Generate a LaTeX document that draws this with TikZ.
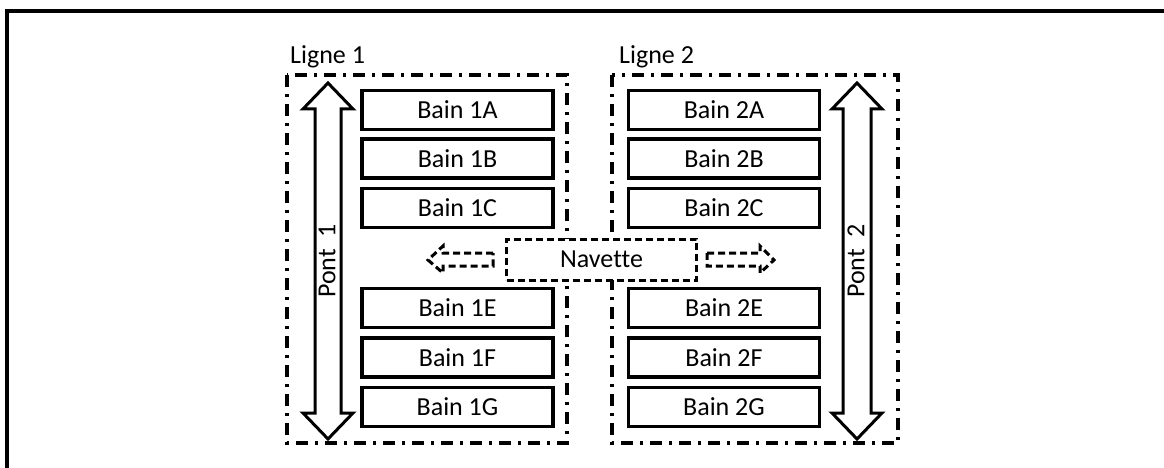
\documentclass[tikz,border=0pt]{standalone}
\usepackage{fontspec}
\setmainfont[Ligatures=NoCommon]{Carlito}
\begin{document}
\begin{tikzpicture}[x=1pt,y=-1pt,
  bainbox/.style={draw,line width=3.2pt,minimum width=191pt,minimum height=39pt,inner sep=0pt,font=\fontsize{26}{29}\selectfont},
  ligne/.style={draw,line width=3.2pt,dash pattern=on 12pt off 7pt on 3pt off 7pt},
  lbl/.style={font=\fontsize{26}{29}\selectfont,inner sep=0pt},
  pont/.style={draw,line width=3pt,line join=miter},
  nav/.style={draw,line width=3pt,dash pattern=on 7pt off 4pt}
]
\useasboundingbox (0,0) rectangle (1164,468);
% outer frame
\draw[line width=3.4pt] (7,480) -- (7,11) -- (1180,11);
% lignes
\draw[ligne] (287,75) rectangle (567,443);
\draw[ligne] (612,75) rectangle (898,443);
\node[lbl,anchor=south west] (l1) at (290,68) {Ligne 1};
\node[lbl,anchor=south west] (l2) at (619,68) {Ligne 2};
% bains
\foreach \n/\y in {A/110,B/158.5,C/208,E/308,F/357.5,G/407}{
  \node[bainbox] (b1\n) at (457.5,\y) {Bain 1\n};
  \node[bainbox] (b2\n) at (724,\y) {Bain 2\n};
}
% ponts
\draw[pont] (328,83) -- (353,109) -- (341,109) -- (341,413) -- (353,413) -- (328,439)
  -- (303,413) -- (315,413) -- (315,109) -- (303,109) -- cycle;
\node[lbl,rotate=90] (p1) at (327,261) {Pont\ \ 1};
\draw[pont] (857,83) -- (882,109) -- (871,109) -- (871,413) -- (882,413) -- (857,439)
  -- (832,413) -- (843,413) -- (843,109) -- (832,109) -- cycle;
\node[lbl,rotate=90] (p2) at (856,261) {Pont\ \ 2};
% navette
\node[nav,fill=white,minimum width=190pt,minimum height=41pt,lbl] (nav) at (601.5,259.5) {Navette};
\draw[nav] (493,253) -- (443,253) -- (443,246) -- (428,260) -- (443,273) -- (443,266) -- (493,266) -- cycle;
\draw[nav] (707,253) -- (760,253) -- (760,246) -- (774,260) -- (760,273) -- (760,266) -- (707,266) -- cycle;
\end{tikzpicture}
\end{document}
